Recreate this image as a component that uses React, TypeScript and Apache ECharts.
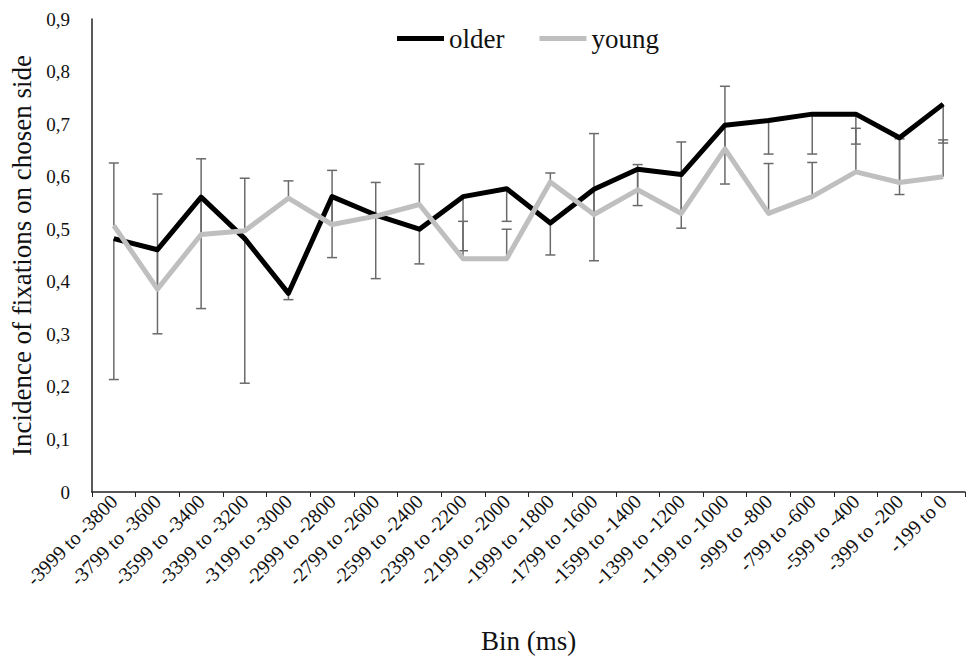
import React, { useEffect, useRef } from "react";
import * as echarts from "echarts";

const categories = [
  "-3999 to -3800", "-3799 to -3600", "-3599 to -3400", "-3399 to -3200", "-3199 to -3000",
  "-2999 to -2800", "-2799 to -2600", "-2599 to -2400", "-2399 to -2200", "-2199 to -2000",
  "-1999 to -1800", "-1799 to -1600", "-1599 to -1400", "-1399 to -1200", "-1199 to -1000",
  "-999 to -800", "-799 to -600", "-599 to -400", "-399 to -200", "-199 to 0",
];

const olderValues = [0.482, 0.461, 0.561, 0.482, 0.378, 0.562, 0.527, 0.5, 0.562, 0.577,
  0.512, 0.576, 0.614, 0.604, 0.698, 0.707, 0.719, 0.719, 0.674, 0.738];
const youngValues = [0.507, 0.386, 0.49, 0.497, 0.559, 0.509, 0.525, 0.547, 0.444, 0.444,
  0.59, 0.528, 0.575, 0.53, 0.653, 0.53, 0.562, 0.609, 0.589, 0.6];
// older: minus error bar end; young: plus error bar end
const olderLower = [0.214, 0.301, 0.349, 0.207, 0.366, 0.446, 0.406, 0.434, 0.459, 0.515,
  0.451, 0.44, 0.545, 0.502, 0.586, 0.643, 0.643, 0.662, 0.566, 0.664];
const youngUpper = [0.626, 0.567, 0.634, 0.597, 0.592, 0.612, 0.589, 0.624, 0.515, 0.5,
  0.607, 0.682, 0.623, 0.666, 0.772, 0.625, 0.627, 0.692, 0.672, 0.67];

const yTicks = ["0", "0,1", "0,2", "0,3", "0,4", "0,5", "0,6", "0,7", "0,8", "0,9"];

const FONT = "'Liberation Serif', 'Times New Roman', serif";

export default function App() {
  const ref = useRef<HTMLDivElement>(null);
  useEffect(() => {
    if (!ref.current) return;
    const chart = echarts.init(ref.current, null, { renderer: "svg" });
    const errRender = (side: "minus" | "plus") => (params: any, api: any) => {
      const x = api.value(0);
      const lo = api.coord([x, api.value(1)]);
      const hi = api.coord([x, api.value(2)]);
      const capY = side === "minus" ? lo[1] : hi[1];
      const st = { stroke: "#6a6a6a", lineWidth: 1.5 };
      return {
        type: "group",
        children: [
          { type: "line", shape: { x1: lo[0], y1: lo[1], x2: hi[0], y2: hi[1] }, style: st },
          { type: "line", shape: { x1: lo[0] - 5, y1: capY, x2: lo[0] + 5, y2: capY }, style: st },
        ],
      };
    };
    chart.setOption({
      animation: false,
      backgroundColor: "#ffffff",
      textStyle: { fontFamily: FONT },
      grid: { left: 92, right: 4, top: 19, bottom: 160, containLabel: false },
      legend: {
        left: 392,
        top: 20,
        icon: "rect",
        itemWidth: 47,
        itemHeight: 5,
        itemGap: 35,
        textStyle: { fontFamily: FONT, fontSize: 27, color: "#111" },
        data: ["older", "young"],
      },
      xAxis: {
        type: "category",
        data: categories,
        boundaryGap: true,
        name: "Bin (ms)",
        nameLocation: "middle",
        nameGap: 135,
        nameTextStyle: { fontFamily: FONT, fontSize: 27, color: "#111" },
        axisLine: { lineStyle: { color: "#222", width: 1.5 } },
        axisTick: { show: true, alignWithLabel: false, length: 5, lineStyle: { color: "#222" } },
        axisLabel: { interval: 0, rotate: 45, fontFamily: FONT, fontSize: 20, color: "#111", margin: 6 },
        splitLine: { show: false },
      },
      yAxis: {
        type: "value",
        min: 0,
        max: 0.9,
        interval: 0.1,
        name: "Incidence of fixations on chosen side",
        nameLocation: "middle",
        nameGap: 42,
        nameTextStyle: { fontFamily: FONT, fontSize: 27, color: "#111" },
        axisLine: { show: true, lineStyle: { color: "#222", width: 1.5 } },
        axisTick: { show: false },
        splitLine: { show: false },
        axisLabel: {
          fontFamily: FONT,
          fontSize: 19,
          color: "#111",
          margin: 22,
          formatter: (v: number) => yTicks[Math.round(v * 10)] ?? "",
        },
      },
      series: [
        {
          type: "custom",
          name: "olderErr",
          renderItem: errRender("minus"),
          data: olderValues.map((v, i) => [i, olderLower[i], v]),
          z: 1,
          silent: true,
        },
        {
          type: "custom",
          name: "youngErr",
          renderItem: errRender("plus"),
          data: youngValues.map((v, i) => [i, v, youngUpper[i]]),
          z: 1,
          silent: true,
        },
        {
          type: "line",
          name: "older",
          data: olderValues,
          showSymbol: false,
          symbol: "none",
          lineStyle: { color: "#000000", width: 5, join: "round" },
          itemStyle: { color: "#000000" },
          z: 3,
        },
        {
          type: "line",
          name: "young",
          data: youngValues,
          showSymbol: false,
          symbol: "none",
          lineStyle: { color: "#bfbfbf", width: 5, join: "round" },
          itemStyle: { color: "#bfbfbf" },
          z: 4,
        },
      ],
    });
    return () => chart.dispose();
  }, []);
  return (
    <div
      ref={ref}
      style={{ position: "fixed", left: 0, top: 0, width: 969, height: 659, background: "#fff" }}
    />
  );
}
